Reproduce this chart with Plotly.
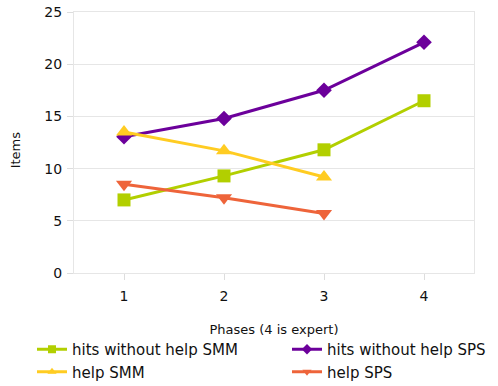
import plotly.graph_objects as go

phases = [1, 2, 3, 4]
hits_smm = [7.0, 9.3, 11.8, 16.5]
hits_sps = [13.05, 14.8, 17.5, 22.1]
help_smm = [13.5, 11.7, 9.2]
help_sps = [8.5, 7.2, 5.7]

# name, x, y, colour, marker symbol, marker size, legend column
series = [
    ("hits without help SMM", phases, hits_smm, "#b2cf00", "square", 13, "legend"),
    ("hits without help SPS", phases, hits_sps, "#6c009b", "diamond", 12, "legend2"),
    ("help SMM", phases[:3], help_smm, "#ffcc22", "triangle-up", 14, "legend"),
    ("help SPS", phases[:3], help_sps, "#ee643a", "triangle-down", 14, "legend2"),
]

W, H = 498, 386
font = "DejaVu Sans, Liberation Sans, sans-serif"

fig = go.Figure()
for i, (name, x, y, color, sym, size, leg) in enumerate(series):
    fig.add_trace(go.Scatter(
        x=x, y=y, name=name, mode="lines+markers", showlegend=False,
        line=dict(color=color, width=3),
        marker=dict(symbol=sym, size=size, color=color),
    ))
    # legend entry with smaller marker
    fig.add_trace(go.Scatter(
        x=[None], y=[None], name=name, mode="lines+markers",
        legend=leg, legendgroup=f"g{i}",
        line=dict(color=color, width=3),
        marker=dict(symbol=sym, size=8, color=color),
    ))

legend_common = dict(
    orientation="v", xref="container", yref="container",
    xanchor="left", yanchor="top", traceorder="normal",
    font=dict(size=15, family=font, color="#111111"),
    tracegroupgap=1, itemsizing="trace", bgcolor="rgba(0,0,0,0)",
)

fig.update_layout(
    width=W, height=H,
    margin=dict(l=74, r=24, t=12, b=113, autoexpand=False),
    paper_bgcolor="white", plot_bgcolor="white",
    font=dict(family=font, color="#111111", size=14),
    xaxis=dict(
        range=[0.5, 4.5], tickvals=phases, ticks="outside", ticklen=6,
        tickcolor="#dddddd", showgrid=False, showline=True, linecolor="#e6e6e6",
        mirror=True, zeroline=False, ticklabelstandoff=4,
        title=dict(text="Phases (4 is expert)", font=dict(size=13), standoff=22),
        tickfont=dict(size=14),
    ),
    yaxis=dict(
        range=[0, 25], dtick=5, ticks="outside", ticklen=6, tickcolor="#dddddd",
        showgrid=True, gridcolor="#e6e6e6", showline=True, linecolor="#e6e6e6",
        mirror=True, zeroline=False, ticklabelstandoff=2,
        tickfont=dict(size=14),
    ),
    annotations=[dict(
        text="Items", textangle=-90, xref="paper", yref="paper",
        x=-59 / 400, y=0.47, xanchor="center", yanchor="middle",
        showarrow=False, font=dict(size=13),
    )],
    legend=dict(x=32 / W, y=1 - 333 / H, **legend_common),
    legend2=dict(x=287 / W, y=1 - 333 / H, **legend_common),
)

fig.write_html("out.html")
